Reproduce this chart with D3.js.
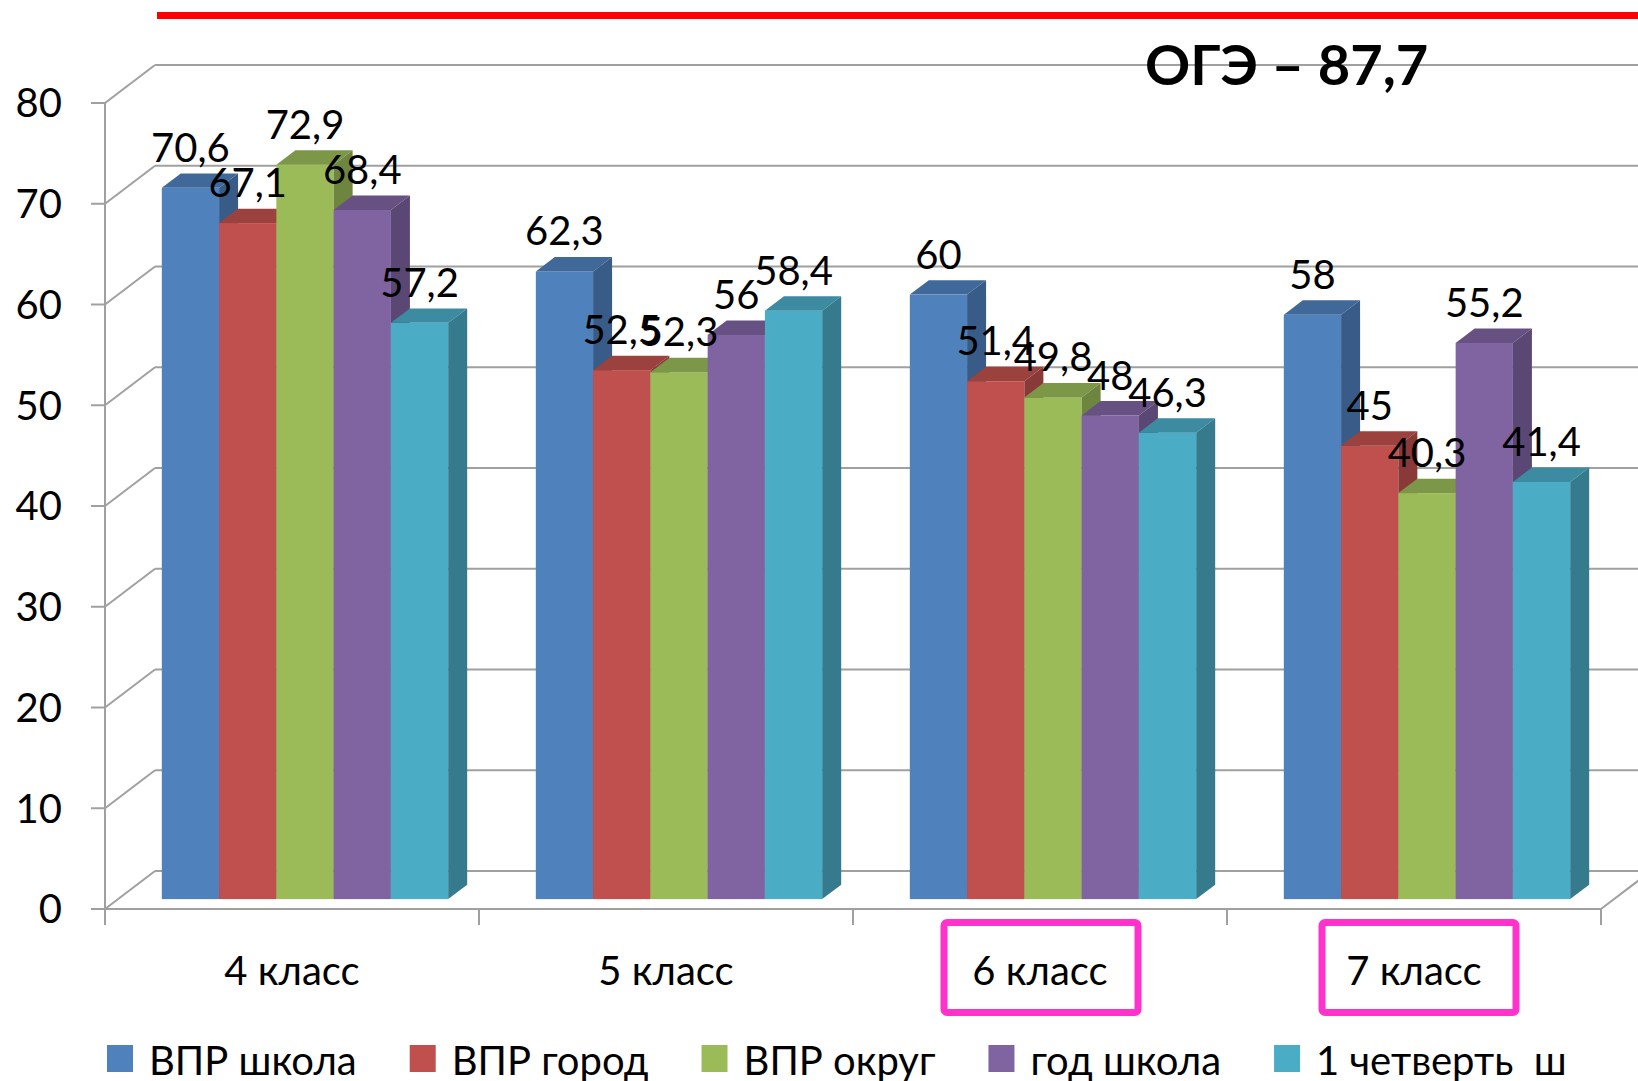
<!DOCTYPE html>
<html lang="ru">
<head>
<meta charset="UTF-8">
<script src="https://cdn.jsdelivr.net/npm/d3@7"></script>
<title>ВПР</title>
<style>
  body { margin: 0; background: #fff; }
  text { font-family: Lato, "Open Sans", sans-serif; fill: #000; }
</style>
</head>
<body>
<div id="container"></div>
<script>
// данные
var categories = ["4 класс", "5 класс", "6 класс", "7 класс"];
var seriesNames = ["ВПР школа", "ВПР город", "ВПР округ", "год школа", "1 четверть  ш"];
var vprSchool   = [70.6, 62.3, 60, 58];
var vprCity     = [67.1, 52.5, 51.4, 45];
var vprDistrict = [72.9, 52.3, 49.8, 40.3];
var yearSchool  = [68.4, 56, 48, 55.2];
var quarter1    = [57.2, 58.4, 46.3, 41.4];
var yTicks = [0, 10, 20, 30, 40, 50, 60, 70, 80];
var highlighted = ["6 класс", "7 класс"];
var ogeLabel = "ОГЭ – 87,7";

var colors = ["#4F81BD", "#C0504D", "#9BBB59", "#8064A2", "#4BACC6"];
var seriesValues = [vprSchool, vprCity, vprDistrict, yearSchool, quarter1];

var width = 1638, height = 1081;
var DX = 50, DY = -38;        // глубина 3D
var f0 = 0.26, f1 = 0.64;     // передняя и задняя грань столбика

var svg = d3.select("#container").append("svg")
    .attr("width", width).attr("height", height)
    .style("display", "block");

var y = d3.scaleLinear().domain([0, 80]).range([909, 103]);
var x = d3.scaleBand().domain(categories).range([105, 1601]);
var xi = d3.scaleBand().domain(seriesNames).range([0, x.bandwidth()])
    .paddingInner(0).paddingOuter(0.765);

var fmt = d3.formatLocale({decimal: ",", thousands: " ", grouping: [3], currency: ["", ""]}).format("~g");
var x0 = x.range()[0], x1 = x.range()[1];
var grid = "#a0a0a0";

// задняя стенка и боковая стенка
var walls = svg.append("g");
walls.selectAll("line.back").data(yTicks).enter().append("line")
    .attr("x1", x0 + DX).attr("x2", width + 20)
    .attr("y1", d => y(d) + DY).attr("y2", d => y(d) + DY)
    .attr("stroke", grid).attr("stroke-width", 2);
walls.selectAll("line.side").data(yTicks).enter().append("line")
    .attr("x1", x0).attr("x2", x0 + DX)
    .attr("y1", d => y(d)).attr("y2", d => y(d) + DY)
    .attr("stroke", grid).attr("stroke-width", 2);

// ось Y
walls.append("line").attr("x1", x0).attr("x2", x0)
    .attr("y1", y(0)).attr("y2", y(80))
    .attr("stroke", grid).attr("stroke-width", 2);
walls.selectAll("line.tick").data(yTicks).enter().append("line")
    .attr("x1", x0 - 14).attr("x2", x0)
    .attr("y1", d => y(d)).attr("y2", d => y(d))
    .attr("stroke", grid).attr("stroke-width", 2);
walls.selectAll("text.ylab").data(yTicks).enter().append("text")
    .attr("x", x0 - 43).attr("y", d => y(d)).attr("dy", "0.36em")
    .attr("text-anchor", "end").style("font-size", "40px")
    .text(d => d);

// пол
walls.append("line").attr("x1", x0).attr("x2", x1)
    .attr("y1", y(0)).attr("y2", y(0))
    .attr("stroke", grid).attr("stroke-width", 2);
walls.append("line").attr("x1", x1).attr("x2", x1 + DX)
    .attr("y1", y(0)).attr("y2", y(0) + DY)
    .attr("stroke", grid).attr("stroke-width", 2);
var bounds = categories.map(c => x(c)).concat([x1]);
walls.selectAll("line.xtick").data(bounds).enter().append("line")
    .attr("x1", d => d).attr("x2", d => d)
    .attr("y1", y(0)).attr("y2", y(0) + 16)
    .attr("stroke", grid).attr("stroke-width", 2);

// столбики
var bars = [];
categories.forEach(function(c, j) {
    seriesNames.forEach(function(s, i) {
        bars.push({cat: c, ser: s, i: i, v: seriesValues[i][j]});
    });
});

var ddx = DX * (f1 - f0), ddy = DY * (f1 - f0);
var w = xi.bandwidth();
function geo(d) {
    var bx = x(d.cat) + xi(d.ser) + DX * f0;
    var top = y(d.v) + DY * f0;
    var bot = y(0) + DY * f0;
    return {bx: bx, top: top, bot: bot};
}

var bg = svg.append("g");
bars.forEach(function(d) {
    var g = geo(d);
    var base = d3.color(colors[d.i]);
    var grp = bg.append("g");
    grp.append("rect").attr("x", g.bx).attr("y", g.top)
        .attr("width", w).attr("height", g.bot - g.top)
        .attr("fill", base.formatHex());
    grp.append("polygon")
        .attr("points", [[g.bx, g.top], [g.bx + ddx, g.top + ddy], [g.bx + w + ddx, g.top + ddy], [g.bx + w, g.top]].join(" "))
        .attr("fill", base.darker(0.6).formatHex());
    grp.append("polygon")
        .attr("points", [[g.bx + w, g.top], [g.bx + w + ddx, g.top + ddy], [g.bx + w + ddx, g.bot + ddy], [g.bx + w, g.bot]].join(" "))
        .attr("fill", base.darker(0.95).formatHex());
});

// подписи значений
svg.append("g").selectAll("text").data(bars).enter().append("text")
    .attr("x", d => geo(d).bx + w / 2)
    .attr("y", d => geo(d).top - 26)
    .attr("text-anchor", "middle").style("font-size", "40px")
    .text(d => fmt(d.v));

// подписи категорий
svg.append("g").selectAll("text").data(categories).enter().append("text")
    .attr("x", d => x(d) + x.bandwidth() / 2)
    .attr("y", 985)
    .attr("text-anchor", "middle").style("font-size", "40px")
    .text(d => d);

// розовые рамки
svg.append("g").selectAll("rect").data(highlighted).enter().append("rect")
    .attr("x", (d, i) => x(d) + x.bandwidth() / 2 - 96 + i * 4)
    .attr("y", y(0) + 13.5)
    .attr("width", 194).attr("height", 90).attr("rx", 3)
    .attr("fill", "none").attr("stroke", "#FF33CC").attr("stroke-width", 7);

// красная линия и ОГЭ
svg.append("line").attr("x1", 157).attr("x2", width)
    .attr("y1", 15.5).attr("y2", 15.5)
    .attr("stroke", "#FF0000").attr("stroke-width", 7);
svg.append("text").attr("x", 1145).attr("y", 85)
    .style("font-size", "56px").style("font-weight", "bold")
    .text(ogeLabel);

// легенда
var leg = svg.append("g");
var lx = 107;
seriesNames.forEach(function(s, i) {
    leg.append("rect").attr("x", lx).attr("y", 1045)
        .attr("width", 26).attr("height", 27).attr("fill", colors[i]);
    var t = leg.append("text").attr("x", lx + 42).attr("y", 1075)
        .style("font-size", "40px").style("white-space", "pre")
        .attr("xml:space", "preserve")
        .text(s);
    lx += 42 + t.node().getComputedTextLength() + 53;
});
</script>
</body>
</html>
